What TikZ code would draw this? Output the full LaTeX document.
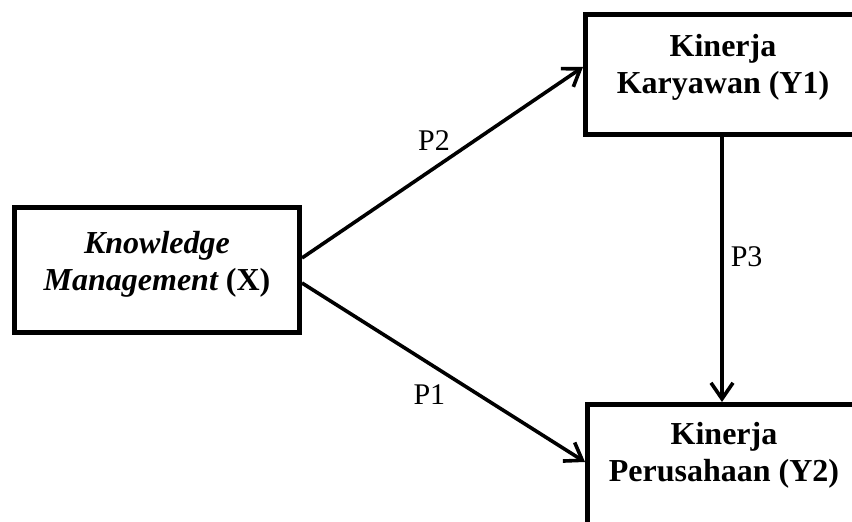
\documentclass[tikz,border=0pt]{standalone}
\usepackage{fontspec}
\setmainfont{Liberation Serif}
\usetikzlibrary{arrows.meta,positioning,calc}
\tikzset{
    -{Straight Barb[length=8pt,width=11pt]},
    box/.style ={rectangle, draw, line width=2.5pt, inner sep=0pt},
    boxtext/.style = {align=center, inner sep=0pt, font=\bfseries\fontsize{16}{18.5}\selectfont},
    el/.style = {inner sep=1pt, font=\fontsize{15}{18}\selectfont}
}

\begin{document}
\begin{tikzpicture}[x=0.5pt, y=-0.5pt, line width=1.8pt]
      \clip (0,0) rectangle (852,522);
      \useasboundingbox (0,0) rectangle (852,522);

      \node[box, minimum width=142.5pt, minimum height=62.5pt] (X) at (157,270) {};
      \node[box, minimum width=137.5pt, minimum height=60pt] (Y1) at (723,74.5) {};
      \node[box, minimum width=136.5pt, minimum height=60pt] (Y2) at (724,464.5) {};

      \node[boxtext] (Xtext) at ($(X)+(0,-6)$) {\itshape Knowledge\\\itshape Management \upshape(X)};
      \node[boxtext] (Y1text) at ($(Y1)+(0,-7.5)$) {Kinerja\\Karyawan (Y1)};
      \node[boxtext] (Y2text) at ($(Y2)+(0,-9.5)$) {Kinerja\\Perusahaan (Y2)};

      \draw ([yshift=6pt]X.east) -- node[pos=0.47, above=7pt, el] (p2) {P2} ([yshift=3.75pt]Y1.west);
      \draw ([yshift=-6.5pt]X.east) -- node[pos=0.45, below=8.5pt, el] (p1) {P1} ([yshift=1.25pt]Y2.west);
      \draw (Y1.south -| 722,0) -- node[pos=0.45, right=2.5pt, el] (p3) {P3} (Y2.north -| 722,0);
    \end{tikzpicture}
\end{document}
